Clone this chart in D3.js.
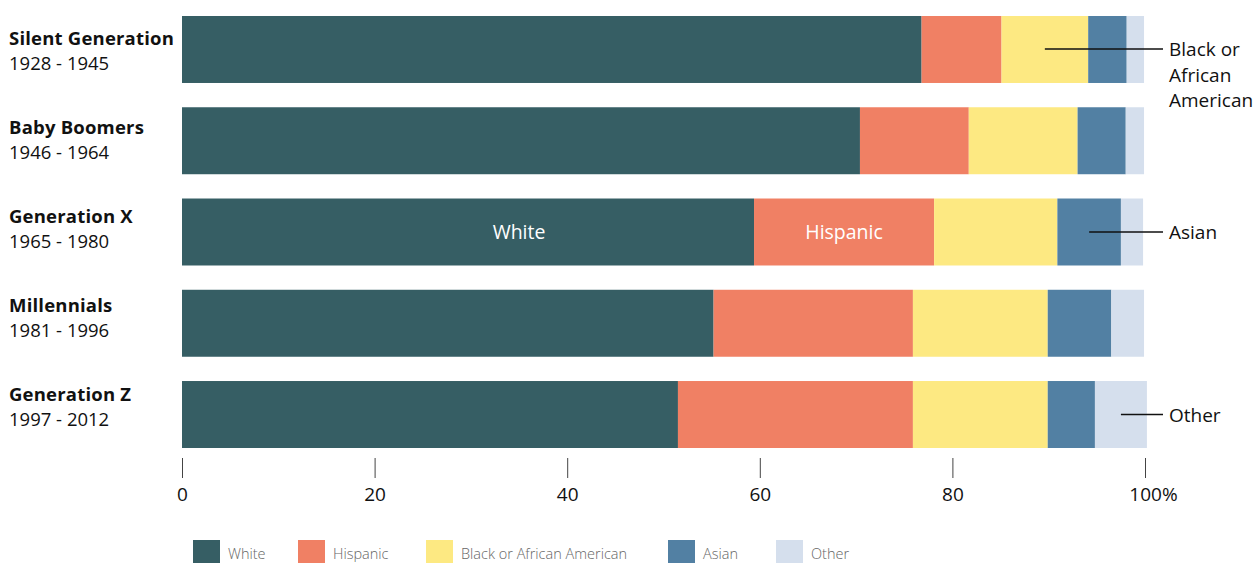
<!DOCTYPE html>
<html>
<head>
<meta charset="utf-8">
<script src="https://cdn.jsdelivr.net/npm/d3@7"></script>
<style>
  body { margin: 0; background: #fff; font-family: "Open Sans", sans-serif; }
  svg text { fill: #111; }
</style>
</head>
<body>
<svg id="chart" width="1257" height="563"></svg>
<script>
// generations, top to bottom
var generations = ["Silent Generation", "Baby Boomers", "Generation X", "Millennials", "Generation Z"];
var years = ["1928 - 1945", "1946 - 1964", "1965 - 1980", "1981 - 1996", "1997 - 2012"];

var groups = ["White", "Hispanic", "Black or African American", "Asian", "Other"];
var colors = ["#365e64", "#f08064", "#fde982", "#5280a3", "#d5dfed"];

// share of each group, in %
var white    = [76.8, 70.4, 59.4, 55.2, 51.5];
var hispanic = [8.3, 11.3, 18.7, 20.7, 24.4];
var black    = [9.0, 11.3, 12.8, 14.0, 14.0];
var asian    = [4.0, 5.0, 6.6, 6.6, 4.9];
var other    = [1.8, 1.9, 2.3, 3.4, 5.4];

var ticks = [0, 20, 40, 60, 80, 100];

var rows = generations.map(function(g, i) {
  return { gen: g, years: years[i], White: white[i], Hispanic: hispanic[i],
    "Black or African American": black[i], Asian: asian[i], Other: other[i] };
});

var svg = d3.select("#chart");

var x = d3.scaleLinear().domain([0, 100]).range([182, 1145]);
var y = d3.scaleBand().domain(generations).range([16, 448]).paddingInner(0.266).paddingOuter(0);
// the row labels sit on a slightly tighter spacing than the bars
var yLab = d3.scalePoint().domain(generations).range([39, 395]);

var stack = d3.stack().keys(groups)(rows);

svg.append("g")
  .selectAll("g")
  .data(stack)
  .join("g")
  .attr("fill", function(d, i) { return colors[i]; })
  .selectAll("rect")
  .data(function(d) { return d; })
  .join("rect")
  .attr("x", function(d) { return x(d[0]); })
  .attr("width", function(d) { return x(d[1]) - x(d[0]); })
  .attr("y", function(d) { return y(d.data.gen); })
  .attr("height", y.bandwidth());

// generation labels
var lab = svg.append("g").selectAll("g")
  .data(rows)
  .join("g")
  .attr("transform", function(d) { return "translate(9," + yLab(d.gen) + ")"; });
lab.append("text")
  .attr("y", 6)
  .style("font-weight", "bold")
  .style("font-size", "18.5px")
  .style("letter-spacing", "0.2px")
  .text(function(d) { return d.gen; });
lab.append("text")
  .attr("y", 31)
  .style("font-size", "18.5px")
  .text(function(d) { return d.years; });

// labels inside Generation X bar
var gx = rows[2];
var midY = y(gx.gen) + y.bandwidth() / 2;
svg.append("text")
  .attr("x", x(35))
  .attr("y", midY + 7)
  .attr("text-anchor", "middle")
  .style("fill", "#fff")
  .style("font-size", "19.5px")
  .text("White");
svg.append("text")
  .attr("x", x(gx.White + gx.Hispanic / 2))
  .attr("y", midY + 7)
  .attr("text-anchor", "middle")
  .style("fill", "#fff")
  .style("font-size", "19.5px")
  .text("Hispanic");

// side callouts
function callout(row, key, lines) {
  var s = stack[groups.indexOf(key)][generations.indexOf(row)];
  var cy = y(row) + y.bandwidth() / 2;
  if (lines.length > 1) cy = y(row) + 33;
  var x0 = x((s[0] + s[1]) / 2);
  svg.append("line")
    .attr("x1", x0).attr("x2", 1163)
    .attr("y1", cy).attr("y2", cy)
    .attr("stroke", "#111").attr("stroke-width", 1.3);
  var t = svg.append("text")
    .attr("x", 1169)
    .attr("y", cy + 7)
    .style("font-size", "19px");
  lines.forEach(function(l, i) {
    t.append("tspan").attr("x", 1169).attr("dy", i ? 25.5 : 0).text(l);
  });
}
callout("Silent Generation", "Black or African American", ["Black or", "African", "American"]);
callout("Generation X", "Asian", ["Asian"]);
callout("Generation Z", "Other", ["Other"]);

// axis
var axis = svg.append("g")
  .attr("transform", "translate(0,458)")
  .call(d3.axisBottom(x).tickValues(ticks).tickSize(20).tickPadding(10)
    .tickFormat(function(d) { return d === 100 ? "100%" : d; }));
axis.select(".domain").remove();
axis.selectAll(".tick line").attr("stroke", "#444");
axis.selectAll(".tick text")
  .style("font-size", "19px")
  .style("font-family", "Open Sans, sans-serif")
  .attr("fill", "#111")
  .attr("dx", function(d) { return d === 100 ? 8 : 0; });

// legend
var legX = [193, 298, 426, 668, 776];
var leg = svg.append("g").selectAll("g")
  .data(groups)
  .join("g")
  .attr("transform", function(d, i) { return "translate(" + legX[i] + ",540)"; });
leg.append("rect")
  .attr("width", 27).attr("height", 23)
  .attr("fill", function(d, i) { return colors[i]; });
leg.append("text")
  .attr("x", 35).attr("y", 19)
  .style("font-size", "14.5px")
  .style("fill", "#666")
  .style("font-weight", 300)
  .text(function(d) { return d; });
</script>
</body>
</html>
